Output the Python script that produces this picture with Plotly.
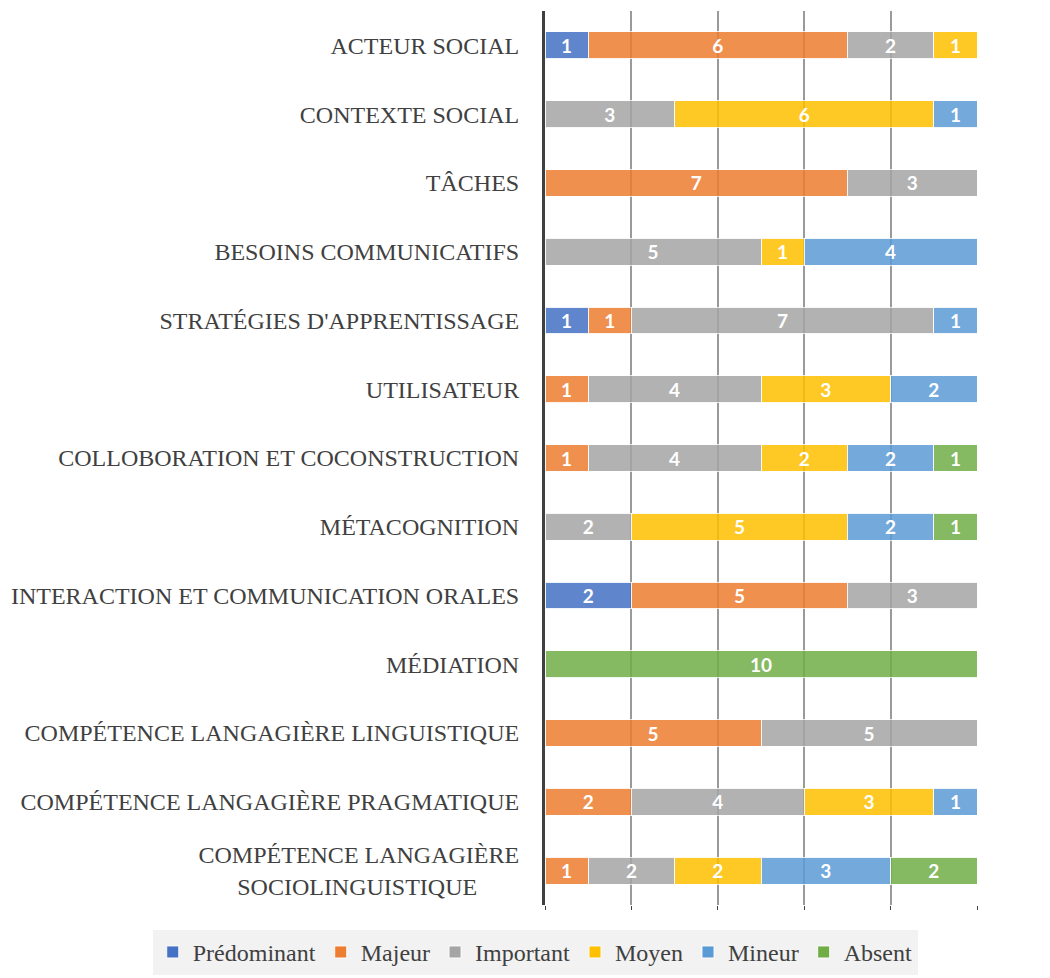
import plotly.graph_objects as go

categories = [
    "ACTEUR SOCIAL",
    "CONTEXTE SOCIAL",
    "TÂCHES",
    "BESOINS COMMUNICATIFS",
    "STRATÉGIES D'APPRENTISSAGE",
    "UTILISATEUR",
    "COLLOBORATION ET COCONSTRUCTION",
    "MÉTACOGNITION",
    "INTERACTION ET COMMUNICATION ORALES",
    "MÉDIATION",
    "COMPÉTENCE LANGAGIÈRE LINGUISTIQUE",
    "COMPÉTENCE LANGAGIÈRE PRAGMATIQUE",
    "COMPÉTENCE LANGAGIÈRE<br>SOCIOLINGUISTIQUE" + "\u00a0" * 7,
]

predominant = [1, None, None, None, 1, None, None, None, 2, None, None, None, None]
majeur      = [6, None, 7, None, 1, 1, 1, None, 5, None, 5, 2, 1]
important   = [2, 3, 3, 5, 7, 4, 4, 2, 3, None, 5, 4, 2]
moyen       = [1, 6, None, 1, None, 3, 2, 5, None, None, None, 3, 2]
mineur      = [None, 1, None, 4, 1, 2, 2, 2, None, None, None, 1, 3]
absent      = [None, None, None, None, None, None, 1, 1, None, 10, None, None, 2]

series_names = ["Prédominant", "Majeur", "Important", "Moyen", "Mineur", "Absent"]
series_values = [predominant, majeur, important, moyen, mineur, absent]
colors = ["#4472C4", "#ED7D31", "#A5A5A5", "#FFC000", "#5B9BD5", "#70AD47"]

SERIF = "Liberation Serif, Times New Roman, serif"

fig = go.Figure()
for name, vals, col in zip(series_names, series_values, colors):
    fig.add_trace(go.Bar(
        y=categories, x=vals, name=name, orientation="h",
        marker=dict(color=col, opacity=0.85,
                    line=dict(color="rgba(255,255,255,0.9)", width=1)),
        texttemplate="%{x}", textposition="inside", insidetextanchor="middle",
        textangle=0, constraintext="none",
        textfont=dict(family="Lato", size=19, color="white", weight="bold"),
        width=0.39,
    ))

fig.update_layout(
    barmode="stack",
    width=1042, height=970,
    margin=dict(l=535, r=73, t=3, b=69),
    plot_bgcolor="white", paper_bgcolor="white",
    font=dict(family=SERIF, size=24, color="#404040"),
    showlegend=True,
    legend=dict(
        orientation="h", xref="paper", yref="paper",
        x=-0.908, xanchor="left", y=-0.0278, yanchor="top",
        bgcolor="#F2F2F2",
        font=dict(family=SERIF, size=24, color="#404040"),
        traceorder="normal", itemwidth=30,
    ),
)
fig.update_xaxes(
    range=[0, 10], dtick=2, showgrid=True, gridcolor="#9A9A9A", gridwidth=1.5,
    showticklabels=False, zeroline=False, showline=False,
    ticks="outside", ticklen=4, tickcolor="#404040",
)
fig.update_yaxes(
    autorange="reversed", categoryorder="array", categoryarray=categories,
    showline=True, linecolor="#404040", linewidth=3,
    ticks="outside", ticklen=18, tickcolor="rgba(0,0,0,0)",
    tickfont=dict(family=SERIF, size=24, color="#404040"),
    showgrid=False,
)
fig.write_html("out.html")
